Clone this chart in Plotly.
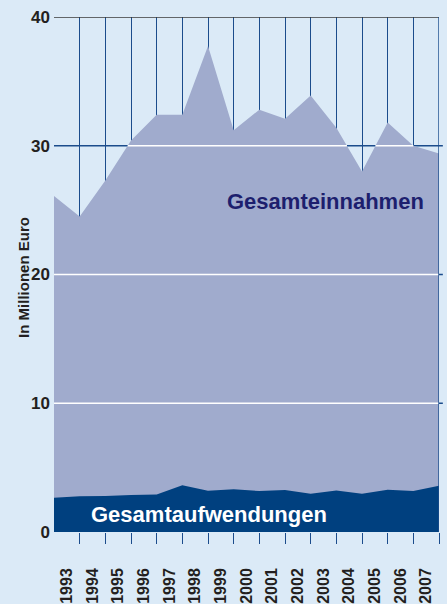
import plotly.graph_objects as go
import numpy as np

years = [str(y) for y in range(1993, 2008)]
# vertices at year boundaries (16 points)
einnahmen = [26.1, 24.5, 27.3, 30.4, 32.4, 32.4, 37.75, 31.2, 32.8, 32.1, 33.9, 31.4, 28.0, 31.8, 30.0, 29.4]
aufwendungen = [2.66, 2.77, 2.8, 2.87, 2.92, 3.64, 3.2, 3.33, 3.18, 3.26, 2.97, 3.23, 2.97, 3.28, 3.18, 3.59]
yticks = [0, 10, 20, 30, 40]

BG = "#dbeaf7"
AREA_TOP = "#a0abcd"
AREA_BOT = "#00407f"
GRID = "#1b4c8c"
TXT = "#231f20"
FONT = "Liberation Sans, Arial"

xs = list(range(len(einnahmen)))


def above_segments(x, y, c):
    segs = []
    cur = None
    for i in range(len(x) - 1):
        x0, x1, y0, y1 = x[i], x[i + 1], y[i], y[i + 1]
        a0, a1 = y0 >= c, y1 >= c
        if a0 and a1:
            s, e = x0, x1
        elif a0 and not a1:
            s, e = x0, x0 + (c - y0) / (y1 - y0) * (x1 - x0)
        elif a1 and not a0:
            s, e = x0 + (c - y0) / (y1 - y0) * (x1 - x0), x1
        else:
            continue
        if cur is not None and abs(cur[1] - s) < 1e-9:
            cur[1] = e
        else:
            if cur is not None:
                segs.append(tuple(cur))
            cur = [s, e]
    if cur is not None:
        segs.append(tuple(cur))
    return segs


fig = go.Figure()
fig.add_trace(go.Scatter(x=xs, y=einnahmen, fill="tozeroy", mode="none",
                         fillcolor=AREA_TOP, hoverinfo="skip", showlegend=False))
fig.add_trace(go.Scatter(x=xs, y=aufwendungen, fill="tozeroy", mode="none",
                         fillcolor=AREA_BOT, hoverinfo="skip", showlegend=False))

# white grid lines where the light area lies beneath
for c in [10, 20, 30]:
    wx, wy = [], []
    for s, e in above_segments(xs, einnahmen, c):
        wx += [s, e, None]
        wy += [c, c, None]
    fig.add_trace(go.Scatter(x=wx, y=wy, mode="lines", line=dict(color="white", width=1.4),
                             hoverinfo="skip", showlegend=False))

# blue horizontal grid lines (below traces), slightly beyond right edge
for c in [10, 20, 30]:
    fig.add_shape(type="line", xref="paper", yref="y", x0=0, x1=1.01, y0=c, y1=c,
                  line=dict(color=GRID, width=1.4), layer="below")
# top line
fig.add_shape(type="line", xref="paper", yref="y", x0=0, x1=1.0, y0=40, y1=40,
              line=dict(color="#3a3a3a", width=1.6), layer="above")
# right edge line
fig.add_shape(type="line", xref="x", yref="paper", x0=xs[-1], x1=xs[-1], y0=-0.0, y1=1,
              line=dict(color=GRID, width=1.4), layer="above")

fig.add_annotation(x=10.56, y=25.7, text="<b>Gesamteinnahmen</b>", showarrow=False,
                   font=dict(family=FONT, size=22, color="#1d1f6e"))
fig.add_annotation(x=6.05, y=1.35, text="<b>Gesamtaufwendungen</b>", showarrow=False,
                   font=dict(family=FONT, size=22, color="white"))
fig.add_annotation(xref="paper", yref="paper", x=-0.081, y=0.495, text="<b>In Millionen Euro</b>",
                   textangle=-90, showarrow=False, xanchor="center", yanchor="middle",
                   font=dict(family=FONT, size=15, color=TXT))

fig.update_layout(
    width=447, height=604,
    margin=dict(l=54, r=8, t=17, b=72),
    paper_bgcolor=BG, plot_bgcolor=BG,
    xaxis=dict(
        range=[0, 15],
        automargin=False,
        tickmode="array",
        tickvals=[i + 0.5 for i in range(len(years))],
        ticktext=years,
        ticks="",
        tickangle=-90,
        ticklabelstandoff=32,
        tickfont=dict(family=FONT, size=16, color=TXT, weight="bold"),
        showgrid=False,
        zeroline=False,
        showline=False,
        minor=dict(tickmode="array", tickvals=list(range(1, 16)), ticks="outside",
                   ticklen=11, tickwidth=1.3, tickcolor=GRID,
                   showgrid=True, gridcolor=GRID, gridwidth=1.2),
        fixedrange=True,
    ),
    yaxis=dict(
        range=[0, 40],
        automargin=False,
        tickmode="array",
        tickvals=yticks,
        ticktext=[str(v) for v in yticks],
        showgrid=False,
        zeroline=False,
        showline=False,
        ticks="",
        ticklabelstandoff=3,
        tickfont=dict(family=FONT, size=17, color=TXT, weight="bold"),
        fixedrange=True,
    ),
)

fig.write_html(
    "out.html",
    config={"displayModeBar": False},
    post_script="document.body.style.margin='0';document.body.style.overflow='hidden';"
                "document.body.style.background='" + BG + "';",
)
